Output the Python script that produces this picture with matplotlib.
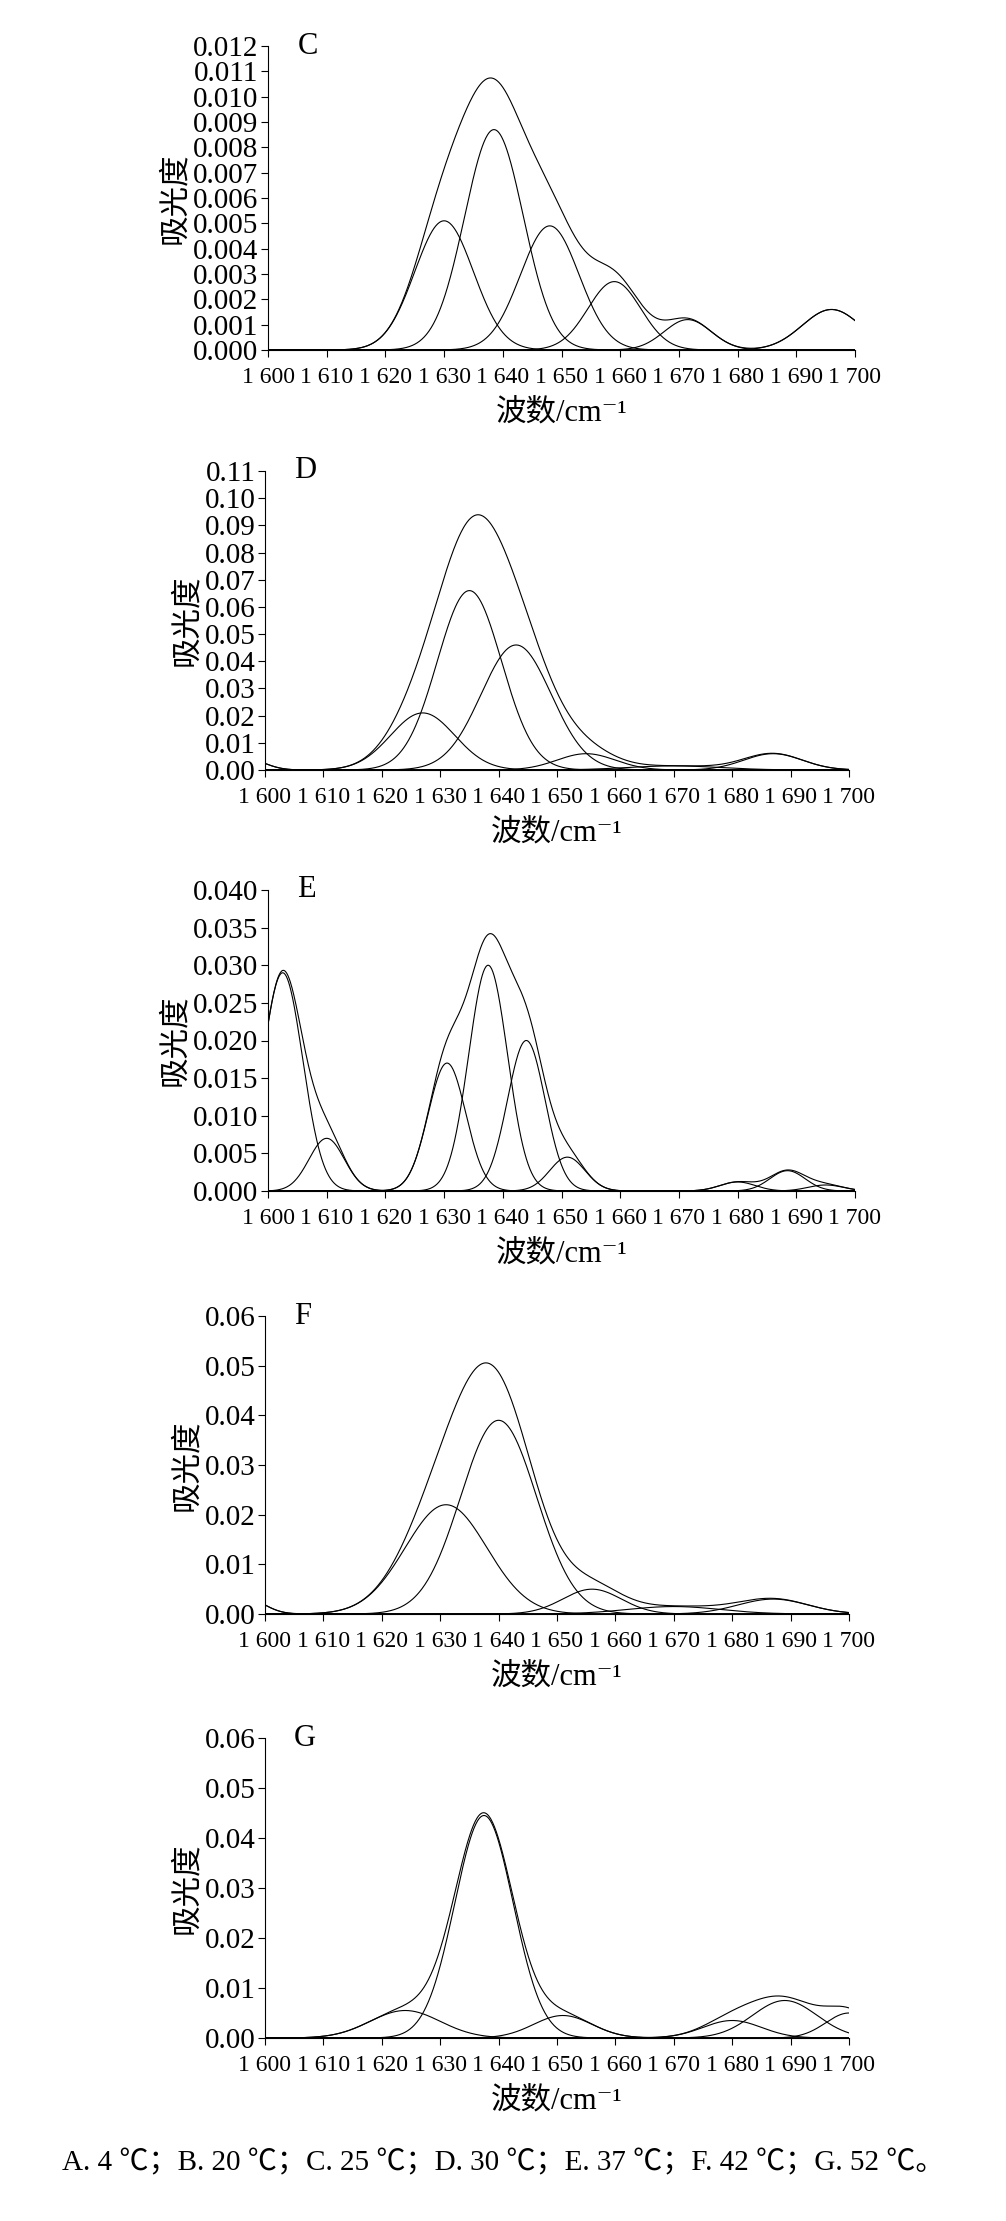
import numpy as np
import matplotlib
matplotlib.use("Agg")
import matplotlib.pyplot as plt

plt.rcParams['font.family'] = ['Liberation Serif', 'Noto Sans CJK SC', 'DejaVu Serif']

# fitted gaussian components per panel: centre (cm-1), height, sigma
labels = ["C", "D", "E", "F", "G"]
centres = {
    "C": [1630, 1638.5, 1648, 1659, 1671.5, 1696],
    "D": [1597, 1627, 1635, 1643, 1655, 1670, 1687],
    "E": [1602.5, 1610, 1630.5, 1637.5, 1644, 1651, 1680, 1688.5, 1695],
    "F": [1597, 1631, 1640, 1656, 1670, 1687],
    "G": [1624, 1637.5, 1651, 1680, 1689, 1700],
}
heights = {
    "C": [0.0051, 0.0087, 0.0049, 0.0027, 0.0012, 0.0016],
    "D": [0.004, 0.021, 0.066, 0.046, 0.006, 0.0015, 0.006],
    "E": [0.029, 0.007, 0.017, 0.030, 0.020, 0.0045, 0.0012, 0.0027, 0.0008],
    "F": [0.003, 0.022, 0.039, 0.005, 0.0015, 0.003],
    "G": [0.0055, 0.0445, 0.0045, 0.0035, 0.0075, 0.005],
}
sigmas = {
    "C": [5, 5, 5, 4.5, 4, 5],
    "D": [3, 5.5, 5.5, 6, 5, 8, 5],
    "E": [3.4, 3, 3.2, 3.3, 3.2, 3, 3, 3, 3],
    "F": [3, 7, 6.5, 5, 8, 6],
    "G": [6, 5, 5, 5, 5.5, 4],
}
ymax = {"C": 0.012, "D": 0.11, "E": 0.040, "F": 0.06, "G": 0.06}
ystep = {"C": 0.001, "D": 0.01, "E": 0.005, "F": 0.01, "G": 0.01}
ydec = {"C": 3, "D": 2, "E": 3, "F": 2, "G": 2}
xticks = list(range(1600, 1701, 10))
caption = "A. 4 ℃；B. 20 ℃；C. 25 ℃；D. 30 ℃；E. 37 ℃；F. 42 ℃；G. 52 ℃。"

W, H = 1006, 2221
fig = plt.figure(figsize=(W / 100, H / 100), dpi=100)
# axes boxes in pixels: left, top, right, bottom
boxes = [(268, 46, 855, 350), (265, 471, 849, 770), (268, 890, 855, 1191),
         (265, 1316, 849, 1614), (265, 1738, 849, 2038)]

x = np.linspace(1600, 1700, 1001)
for lab, (l, t, r, b) in zip(labels, boxes):
    ax = fig.add_axes([l / W, 1 - b / H, (r - l) / W, (b - t) / H])
    total = np.zeros_like(x)
    for c, h, s in zip(centres[lab], heights[lab], sigmas[lab]):
        g = h * np.exp(-(x - c) ** 2 / (2 * s ** 2))
        total += g
        ax.plot(x, g, color="black", lw=0.8)
    ax.plot(x, total, color="black", lw=0.8)
    ax.set_xlim(1600, 1700)
    ax.set_ylim(0, ymax[lab])
    ax.set_xticks(xticks)
    ax.set_xticklabels([f"{v // 1000} {v % 1000:03d}" for v in xticks])
    yt = np.arange(0, ymax[lab] + ystep[lab] / 2, ystep[lab])
    ax.set_yticks(yt)
    ax.set_yticklabels([f"{v:.{ydec[lab]}f}" for v in yt])
    for side in ("top", "right"):
        ax.spines[side].set_visible(False)
    ax.tick_params(direction="out", length=5, width=0.8, pad=2)
    ax.tick_params(axis="x", labelsize=17, pad=7)
    ax.tick_params(axis="y", labelsize=21)
    ax.set_xlabel("波数/cm⁻¹", fontsize=22, labelpad=8)
    ax.set_ylabel("吸光度", fontsize=22, labelpad=2)
    ax.text(0.05, 1.0, lab, transform=ax.transAxes, fontsize=22, va="center")

fig.text(0.5, 1 - 2163 / H, caption, ha="center", va="center", fontsize=21)
fig.savefig("out.png", dpi=100)
